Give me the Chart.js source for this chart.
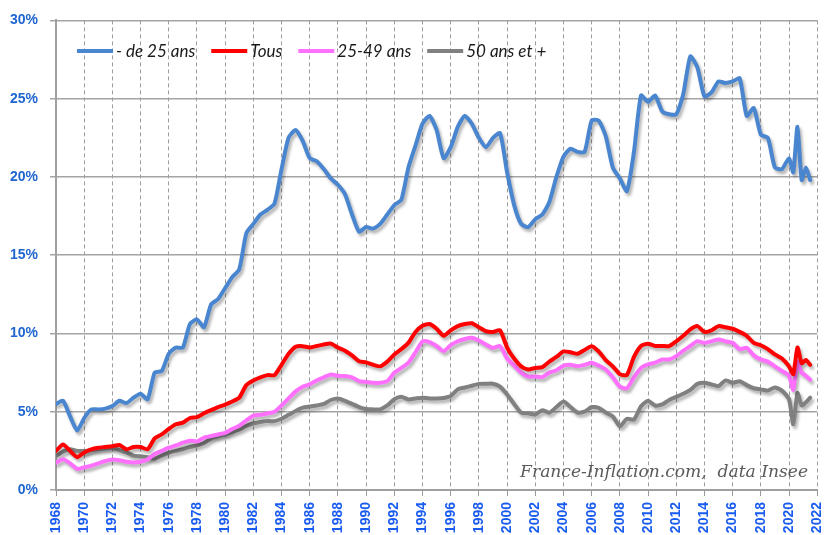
<!DOCTYPE html>
<html><head><meta charset="utf-8">
<script src="https://cdn.jsdelivr.net/npm/chart.js@4.4.1/dist/chart.umd.min.js"></script>
<style>html,body{margin:0;padding:0;background:#fff;}canvas{display:block;}</style>
</head><body>
<canvas id="c" width="840" height="535"></canvas>
<script>
const dates = [
  1968,1968.5,1969,1969.5,1970,1970.5,1971,1971.5,1972,1972.5,
  1973,1973.5,1974,1974.5,1975,1975.5,1976,1976.5,1977,1977.5,
  1978,1978.5,1979,1979.5,1980,1980.5,1981,1981.5,1982,1982.5,
  1983,1983.5,1984,1984.5,1985,1985.5,1986,1986.5,1987,1987.5,
  1988,1988.5,1989,1989.5,1990,1990.5,1991,1991.5,1992,1992.5,
  1993,1993.5,1994,1994.5,1995,1995.5,1996,1996.5,1997,1997.5,
  1998,1998.5,1999,1999.5,2000,2000.5,2001,2001.5,2002,2002.5,
  2003,2003.5,2004,2004.5,2005,2005.5,2006,2006.5,2007,2007.5,
  2008,2008.5,2009,2009.5,2010,2010.5,2011,2011.5,2012,2012.5,
  2013,2013.5,2014,2014.5,2015,2015.5,2016,2016.5,2017,2017.5,
  2018,2018.5,2019,2019.5,
  2020,2020.3,2020.6,2020.9,2021.2,2021.5
];
const seriesLabels = ['- de 25 ans', 'Tous', '25-49 ans', '50 ans et +'];
const under25 = [
  5.5,5.7,4.7,3.8,4.6,5.15,5.15,5.2,5.36,5.7,
  5.55,5.9,6.15,5.8,7.5,7.6,8.7,9.1,9.1,10.6,
  10.9,10.4,11.85,12.2,12.9,13.6,14.1,16.4,17.0,17.6,
  17.9,18.3,20.5,22.5,23.0,22.3,21.2,21.0,20.5,19.9,
  19.5,18.9,17.6,16.5,16.8,16.7,17.0,17.6,18.2,18.55,
  20.6,22.0,23.4,23.9,23.0,21.2,21.9,23.2,23.9,23.4,
  22.5,21.9,22.5,22.8,20.3,18.2,17.0,16.8,17.3,17.6,
  18.4,20.0,21.3,21.8,21.6,21.6,23.6,23.6,22.6,20.6,
  19.9,19.1,21.6,25.2,24.8,25.2,24.2,24.0,24.0,25.3,
  27.7,27.0,25.15,25.4,26.1,26.0,26.1,26.3,23.9,24.4,
  22.7,22.5,20.6,20.5,
  21.2,20.3,23.2,19.8,20.6,19.8
];
const allAges = [
  2.5,2.9,2.5,2.1,2.4,2.6,2.7,2.75,2.8,2.87,
  2.6,2.75,2.75,2.6,3.3,3.55,3.9,4.2,4.3,4.6,
  4.65,4.9,5.1,5.3,5.45,5.65,5.9,6.7,7.0,7.2,
  7.34,7.34,8.0,8.7,9.15,9.19,9.1,9.2,9.3,9.35,
  9.1,8.9,8.6,8.23,8.15,8.0,7.9,8.2,8.66,9.0,
  9.4,10.1,10.5,10.6,10.3,9.85,10.2,10.47,10.6,10.65,
  10.4,10.15,10.1,10.2,9.1,8.4,7.9,7.7,7.8,7.85,
  8.2,8.5,8.85,8.8,8.7,8.95,9.19,8.85,8.3,7.9,
  7.4,7.35,8.5,9.2,9.35,9.2,9.2,9.19,9.5,9.85,
  10.26,10.47,10.1,10.2,10.47,10.4,10.3,10.1,9.85,9.4,
  9.25,9.0,8.66,8.4,
  7.9,7.4,9.1,8.1,8.3,8.0
];
const age25to49 = [
  1.74,1.96,1.7,1.35,1.45,1.55,1.7,1.85,1.95,1.9,
  1.8,1.75,1.8,1.95,2.3,2.5,2.7,2.85,3.02,3.15,
  3.1,3.35,3.45,3.55,3.65,3.9,4.1,4.45,4.75,4.8,
  4.9,5.0,5.4,5.85,6.3,6.6,6.75,7.0,7.2,7.38,
  7.3,7.28,7.2,6.96,6.9,6.85,6.85,6.95,7.49,7.8,
  8.13,8.8,9.5,9.45,9.2,8.87,9.25,9.5,9.65,9.72,
  9.55,9.3,9.08,9.2,8.4,7.95,7.5,7.25,7.25,7.21,
  7.5,7.65,7.95,8.0,7.91,8.0,8.13,7.95,7.7,7.2,
  6.6,6.5,7.2,7.8,8.02,8.13,8.34,8.34,8.55,8.9,
  9.2,9.51,9.4,9.5,9.62,9.5,9.4,9.0,9.08,8.6,
  8.34,8.2,7.9,7.6,
  7.3,6.4,8.2,7.5,7.3,7.05
];
const over50 = [
  2.17,2.45,2.6,2.5,2.49,2.55,2.6,2.65,2.7,2.55,
  2.4,2.2,2.15,2.1,2.0,2.2,2.38,2.5,2.6,2.75,
  2.85,3.0,3.3,3.45,3.55,3.7,3.87,4.1,4.25,4.35,
  4.4,4.4,4.55,4.8,5.05,5.26,5.33,5.4,5.5,5.75,
  5.85,5.7,5.5,5.3,5.17,5.15,5.15,5.4,5.8,5.95,
  5.79,5.85,5.9,5.85,5.85,5.88,6.0,6.43,6.55,6.66,
  6.78,6.79,6.79,6.6,6.1,5.5,4.94,4.9,4.83,5.1,
  4.94,5.3,5.65,5.3,4.95,5.0,5.3,5.25,4.95,4.7,
  4.08,4.55,4.5,5.35,5.7,5.4,5.47,5.75,5.95,6.15,
  6.4,6.78,6.85,6.75,6.64,7.0,6.85,6.95,6.7,6.5,
  6.43,6.35,6.55,6.35,
  5.8,4.2,6.2,5.4,5.6,5.9
];
const xRange = [1968, 2022];
const xStep = 2;
const yRange = [0, 30];
const yStep = 5;
const sourceText = 'France-Inflation.com,  data Insee';

const colors = ['#4a86d0', '#ff0000', '#ff70ff', '#808080'];
const seriesValues = [under25, allAges, age25to49, over50];

const shadowPlugin = {
  id: 'shadow',
  beforeDatasetDraw(chart) {
    const c = chart.ctx; c.save();
    c.shadowColor = 'rgba(0,0,0,0.30)'; c.shadowBlur = 3;
    c.shadowOffsetX = 2; c.shadowOffsetY = 3;
  },
  afterDatasetDraw(chart) { chart.ctx.restore(); }
};

const textPlugin = {
  id: 'texts',
  afterDraw(chart) {
    const c = chart.ctx;
    c.save();
    let x = 77; const y = 51;
    c.font = 'italic 17px Lato';
    c.textBaseline = 'middle';
    chart.data.datasets.forEach(ds => {
      c.strokeStyle = ds.borderColor; c.lineWidth = 4; c.lineCap = 'butt';
      c.beginPath(); c.moveTo(x, y); c.lineTo(x + 36, y); c.stroke();
      c.fillStyle = '#1a1a1a';
      c.fillText(ds.label, x + 39, y + 1);
      x += 39 + c.measureText(ds.label).width + 16;
    });
    c.font = 'italic 18px "DejaVu Serif"';
    const w = c.measureText(sourceText).width;
    const size = 18 * 288 / w;
    c.font = 'italic ' + size.toFixed(1) + 'px "DejaVu Serif"';
    c.fillStyle = '#5a5a5a';
    c.textAlign = 'right'; c.textBaseline = 'alphabetic';
    c.fillText(sourceText, 808, 477);
    c.restore();
  }
};

new Chart(document.getElementById('c'), {
  type: 'line',
  data: {
    datasets: seriesLabels.map((label, i) => ({
      label,
      data: dates.map((d, k) => ({ x: d, y: seriesValues[i][k] })),
      borderColor: colors[i],
      borderWidth: 4,
      pointRadius: 0,
      tension: 0.2,
      fill: false,
      borderJoinStyle: 'round',
      borderCapStyle: 'round'
    }))
  },
  options: {
    responsive: false,
    animation: false,
    devicePixelRatio: 1,
    layout: { padding: { top: 19, right: 9, left: 0, bottom: 0 } },
    plugins: { legend: { display: false }, tooltip: { enabled: false } },
    scales: {
      x: {
        type: 'linear', min: xRange[0], max: xRange[1],
        afterFit: s => { s.height = 45; },
        ticks: {
          stepSize: xStep, autoSkip: false, maxRotation: 90, minRotation: 90,
          padding: 6, color: '#1a5cf0',
          font: { family: 'Liberation Sans', weight: 'bold', size: 14 },
          callback: v => String(v)
        },
        grid: { color: '#9c9c9c', lineWidth: 1, tickLength: 6, tickColor: '#9a9a9a', tickBorderDash: [] },
        border: { display: true, color: '#a0a0a0', width: 2, dash: [4, 3] }
      },
      y: {
        min: yRange[0], max: yRange[1],
        afterFit: s => { s.width = 56; },
        ticks: {
          stepSize: yStep, padding: 12, color: '#2066d0',
          font: { family: 'Liberation Sans', weight: 'bold', size: 14 },
          callback: v => v + '%'
        },
        grid: { color: '#a4a4a4', lineWidth: 1.5, tickLength: 6 },
        border: { display: true, color: '#a0a0a0', width: 2 }
      }
    }
  },
  plugins: [shadowPlugin, textPlugin]
});
</script>
</body></html>
